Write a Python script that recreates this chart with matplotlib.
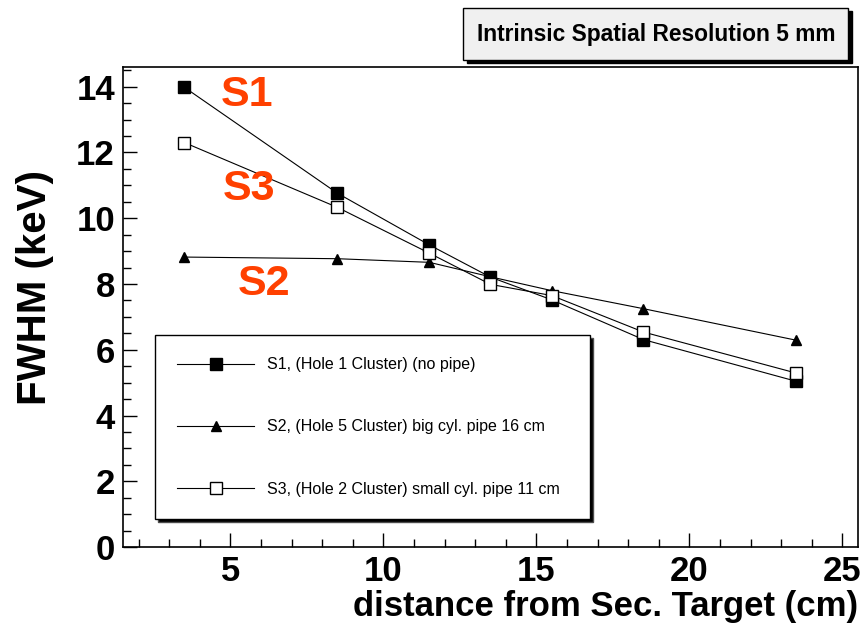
import numpy as np
import matplotlib.pyplot as plt
from matplotlib.patches import Rectangle
from matplotlib.ticker import MultipleLocator

distance = [3.5, 8.5, 11.5, 13.5, 15.5, 18.5, 23.5]
fwhm_s1 = [13.98, 10.76, 9.19, 8.21, 7.52, 6.31, 5.04]
fwhm_s2 = [8.82, 8.77, 8.66, 8.22, 7.80, 7.25, 6.29]
fwhm_s3 = [12.30, 10.33, 8.94, 7.99, 7.65, 6.54, 5.29]

labels = ["S1, (Hole 1 Cluster) (no pipe)",
          "S2, (Hole 5 Cluster) big cyl. pipe 16 cm",
          "S3, (Hole 2 Cluster) small cyl. pipe 11 cm"]

plt.rcParams['font.family'] = ['Liberation Sans', 'DejaVu Sans']

fig = plt.figure(figsize=(8.62, 6.26), dpi=100)
ax = fig.add_axes([0.143, 0.126, 0.852, 0.767])

ax.plot(distance, fwhm_s1, 'k-', lw=0.8, marker='s', ms=8, mfc='black', label=labels[0])
ax.plot(distance, fwhm_s2, 'k-', lw=0.8, marker='^', ms=6.5, mfc='black', label=labels[1])
ax.plot(distance, fwhm_s3, 'k-', lw=0.8, marker='s', ms=8, mfc='white', label=labels[2])

ax.set_xlim(1.5, 25.5)
ax.set_ylim(0, 14.6)
ax.xaxis.set_major_locator(MultipleLocator(5))
ax.xaxis.set_minor_locator(MultipleLocator(1))
ax.yaxis.set_major_locator(MultipleLocator(2))
ax.yaxis.set_minor_locator(MultipleLocator(0.5))
ax.tick_params(which='both', direction='in', top=False, right=False, width=1)
ax.tick_params(which='major', length=10, labelsize=25, pad=6)
ax.tick_params(which='minor', length=5.5)
for lab in ax.get_xticklabels() + ax.get_yticklabels():
    lab.set_fontweight('bold')
for s in ax.spines.values():
    s.set_linewidth(1.2)

ax.set_xlabel('distance from Sec. Target (cm)', fontsize=25, fontweight='bold')
ax.xaxis.set_label_coords(1.0, -0.09)
ax.xaxis.label.set_ha('right')
ax.set_ylabel('FWHM (keV)', fontsize=29, fontweight='bold')
ax.yaxis.set_label_coords(-0.094, 0.54)

# red curve tags
ax.text(5.55, 13.75, 'S1', color='#ff4000', fontsize=31, fontweight='bold', ha='center', va='center')
ax.text(5.6, 10.9, 'S3', color='#ff4000', fontsize=31, fontweight='bold', ha='center', va='center')
ax.text(6.1, 8.0, 'S2', color='#ff4000', fontsize=31, fontweight='bold', ha='center', va='center')

leg = ax.legend(loc='upper left', bbox_to_anchor=(155 / 862, 1 - 520 / 626, 435 / 862, 185 / 626),
                bbox_transform=fig.transFigure, mode='expand', fontsize=11.5,
                handlelength=4.8, handletextpad=0.8, labelspacing=2.95, borderpad=1.4,
                borderaxespad=0, fancybox=False, framealpha=1, edgecolor='black',
                shadow={'facecolor': 'black', 'alpha': 1})
leg.get_frame().set_linewidth(1.0)

# title box with shadow
fig.patches.append(Rectangle((467 / 862, 1 - 63 / 626), 385 / 862, 52 / 626,
                             transform=fig.transFigure, fc='black', ec='black', zorder=1))
fig.patches.append(Rectangle((463 / 862, 1 - 60 / 626), 385 / 862, 52 / 626,
                             transform=fig.transFigure, fc='#f0f0f0', ec='black', lw=1, zorder=2))
fig.text(656 / 862, 1 - 34 / 626, 'Intrinsic Spatial Resolution 5 mm', fontsize=16.4,
         fontweight='bold', ha='center', va='center', zorder=3)

fig.savefig('out.png', dpi=100)
